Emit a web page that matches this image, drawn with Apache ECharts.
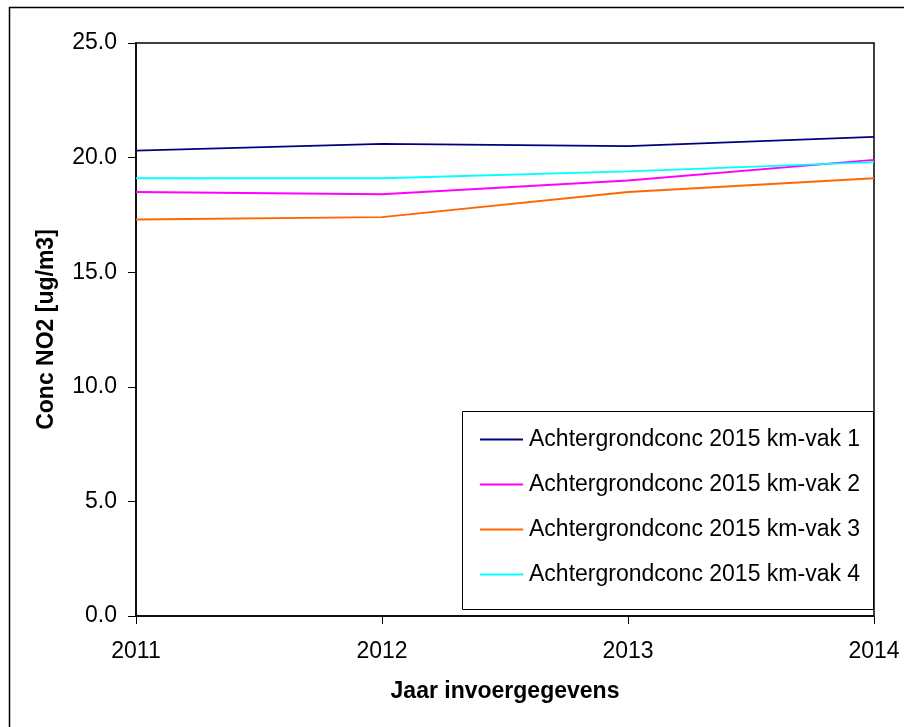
<!DOCTYPE html>
<html>
<head>
<meta charset="utf-8">
<script src="https://cdn.jsdelivr.net/npm/echarts@6/dist/echarts.min.js"></script>
<style>
  html, body { margin: 0; padding: 0; background: #fff; }
  #chart { width: 904px; height: 727px; }
</style>
</head>
<body>
<div id="chart"></div>
<script>
// Jaren van de invoergegevens
const years = ['2011', '2012', '2013', '2014'];

// Achtergrondconcentratie NO2 [ug/m3] per km-vak
const kmVak1 = [20.3, 20.6, 20.5, 20.9];
const kmVak2 = [18.5, 18.4, 19.0, 19.9];
const kmVak3 = [17.3, 17.4, 18.5, 19.1];
const kmVak4 = [19.1, 19.1, 19.4, 19.8];

const seriesNames = [
  'Achtergrondconc 2015 km-vak 1',
  'Achtergrondconc 2015 km-vak 2',
  'Achtergrondconc 2015 km-vak 3',
  'Achtergrondconc 2015 km-vak 4'
];
const seriesData = [kmVak1, kmVak2, kmVak3, kmVak4];
const colors = ['#000080', '#ff00ff', '#ff6600', '#00ffff'];

const FONT = 'Liberation Sans, Arial, sans-serif';
const FS = 23;

const chart = echarts.init(document.getElementById('chart'), null, { renderer: 'canvas' });

chart.setOption({
  animation: false,
  backgroundColor: '#ffffff',
  color: colors,
  grid: {
    left: 136, right: 30, top: 43, bottom: 111,
    show: true, borderColor: '#000', borderWidth: 1.5, backgroundColor: 'transparent'
  },
  graphic: [
    // outer frame of the chart area
    { type: 'rect', left: 7, top: 5, shape: { width: 1000, height: 1000 },
      style: { fill: 'none', stroke: '#000', lineWidth: 1.5 }, silent: true, z: -1 },
    // legend frame
    { type: 'rect', left: 462, top: 411, shape: { width: 411, height: 198 },
      style: { fill: '#fff', stroke: '#000', lineWidth: 1 }, silent: true, z: 5 }
  ],
  legend: {
    orient: 'vertical',
    left: 480, top: 428,
    padding: 0,
    icon: 'rect',
    itemWidth: 43, itemHeight: 2,
    itemGap: 22,
    z: 10,
    textStyle: { fontFamily: FONT, fontSize: FS, color: '#000', lineHeight: 20, padding: [0, 0, 0, 1] },
    data: seriesNames
  },
  xAxis: {
    type: 'category',
    data: years,
    boundaryGap: false,
    name: 'Jaar invoergegevens',
    nameLocation: 'middle',
    nameGap: 64,
    nameTextStyle: { fontFamily: FONT, fontSize: FS, fontWeight: 'bold', color: '#000' },
    axisLine: { lineStyle: { color: '#000', width: 1.5 } },
    axisTick: { show: true, inside: false, length: 8, lineStyle: { color: '#000' } },
    axisLabel: { fontFamily: FONT, fontSize: FS, color: '#000', margin: 24 },
    splitLine: { show: false }
  },
  yAxis: {
    type: 'value',
    min: 0, max: 25, interval: 5,
    name: 'Conc NO2 [ug/m3]',
    nameLocation: 'middle',
    nameRotate: 90,
    nameGap: 78,
    nameTextStyle: { fontFamily: FONT, fontSize: FS, fontWeight: 'bold', color: '#000' },
    axisLine: { show: true, lineStyle: { color: '#000', width: 1.5 } },
    axisTick: { show: true, inside: false, length: 8, lineStyle: { color: '#000' } },
    axisLabel: {
      fontFamily: FONT, fontSize: FS, color: '#000', margin: 19,
      formatter: v => v.toFixed(1)
    },
    splitLine: { show: false }
  },
  series: seriesNames.map((name, i) => ({
    name: name,
    type: 'line',
    data: seriesData[i],
    symbol: 'none',
    lineStyle: { width: 1.8, color: colors[i] },
    itemStyle: { color: colors[i] },
    z: 3
  }))
});
</script>
</body>
</html>
